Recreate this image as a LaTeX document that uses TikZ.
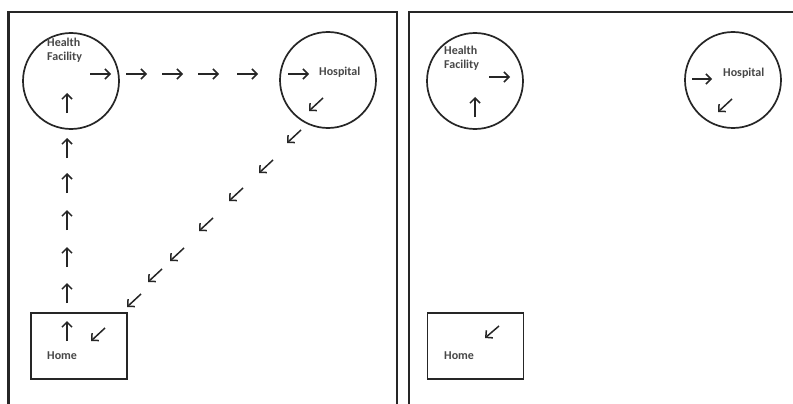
\documentclass[tikz,border=0pt]{standalone}
\usepackage{fontspec}
\setmainfont{Carlito}
\usepackage{tikz}
\usetikzlibrary{arrows.meta}
\definecolor{ink}{HTML}{262626}
\definecolor{txt}{HTML}{474747}
\tikzset{
    place/.style={circle, draw=ink, line width=1.7pt, minimum size=96pt, inner sep=0pt},
    homebox/.style={rectangle, draw=ink, line width=1.9pt, minimum width=96pt, minimum height=66pt, inner sep=0pt},
    lbl/.style={text=txt, font=\fontsize{12}{14.5}\selectfont\bfseries, align=left, inner sep=0pt, anchor=base west},
    arr/.style={draw=ink, line width=1.5pt, -{Straight Barb[length=5pt,width=10pt]}},
    frame/.style={draw=ink, line width=2.2pt}
}

\begin{document}
\begin{tikzpicture}[x=1pt, y=-1pt]
    \useasboundingbox (0,0) rectangle (793,404);
    \fill[white] (0,0) rectangle (793,404);
    % panels
    \draw[frame] (8.5,404) -- (8.5,12) -- (397,12) -- (397,404);
    \draw[frame] (409,404) -- (409,12) -- (795,12);

    % left panel
    \node[place] (hfL) at (71,81) {};
    \node[place] (hospL) at (328,80) {};
    \node[homebox] (homeL) at (79,346) {};
    \node[lbl] (hfLtxt) at (47,61) {Health\\Facility};
    \node[lbl] (hospLtxt) at (319,76) {Hospital};
    \node[lbl] (homeLtxt) at (47,359) {Home};
    \foreach \x in {90,126,162,198,237,288}
        \draw[arr] (\x,74) -- ++(21,0);
    \foreach \y in {93,138,173,210,247,283,321}
        \draw[arr] (67,{\y+20}) -- (67,\y);
    \foreach \p in {(323,98),(301,130),(273,160),(243,188),(213,218),(184,248),(162,269),(141,294),(105,328)}
        \draw[arr] \p -- ++(-14,13);

    % right panel
    \node[place] (hfR) at (475,81) {};
    \node[place] (hospR) at (733,80) {};
    \node[homebox] (homeR) at (475.5,346) {};
    \node[lbl] (hfRtxt) at (444,69) {Health\\Facility};
    \node[lbl] (hospRtxt) at (723,77) {Hospital};
    \node[lbl] (homeRtxt) at (444,359) {Home};
    \draw[arr] (489,77) -- ++(21,0);
    \draw[arr] (475,117) -- (475,97);
    \draw[arr] (692,79) -- ++(20,0);
    \draw[arr] (732,99) -- ++(-14,13);
    \draw[arr] (499,326) -- ++(-14,12);
\end{tikzpicture}
\end{document}
